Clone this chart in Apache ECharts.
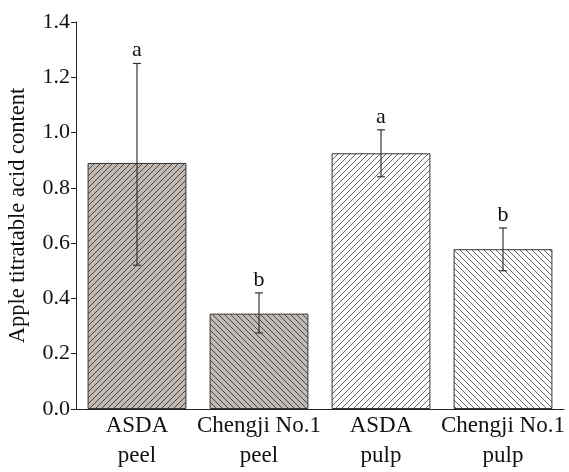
<!DOCTYPE html>
<html><head><meta charset="utf-8">
<script src="https://cdn.jsdelivr.net/npm/echarts@6/dist/echarts.min.js"></script>
<style>html,body{margin:0;padding:0;background:#fff}#c{width:569px;height:472px}</style>
</head><body><div id="c"></div>
<script>
const categories = ['ASDA\npeel', 'Chengji No.1\npeel', 'ASDA\npulp', 'Chengji No.1\npulp'];
const means = [0.89, 0.345, 0.925, 0.578];
const errLow = [0.52, 0.275, 0.84, 0.50];
const errHigh = [1.25, 0.42, 1.01, 0.655];
const letters = ['a', 'b', 'a', 'b'];

function hatch(bg, forward, lc) {
  const s = 6;
  const c = document.createElement('canvas');
  c.width = s; c.height = s;
  const g = c.getContext('2d');
  g.fillStyle = bg; g.fillRect(0, 0, s, s);
  g.strokeStyle = lc; g.lineWidth = 1;
  g.beginPath();
  if (forward) {
    g.moveTo(-1, s + 1); g.lineTo(s + 1, -1);
    g.moveTo(-1, 1); g.lineTo(1, -1);
    g.moveTo(s - 1, s + 1); g.lineTo(s + 1, s - 1);
  } else {
    g.moveTo(-1, -1); g.lineTo(s + 1, s + 1);
    g.moveTo(-1, s - 1); g.lineTo(1, s + 1);
    g.moveTo(s - 1, -1); g.lineTo(s + 1, 1);
  }
  g.stroke();
  return { image: c, repeat: 'repeat' };
}
const fills = [hatch('#c0b9b4', true, '#4a4545'), hatch('#c0b9b4', false, '#4a4545'),
               hatch('#ffffff', true, '#6a6666'), hatch('#ffffff', false, '#6a6666')];

const chart = echarts.init(document.getElementById('c'));
const font = 'Liberation Serif';
chart.setOption({
  animation: false,
  grid: { left: 76, right: 5, top: 22, bottom: 63, containLabel: false, outerBoundsMode: 'none' },
  xAxis: {
    type: 'category', data: categories,
    axisLine: { lineStyle: { color: '#222', width: 1 } },
    axisTick: { show: false },
    axisLabel: { color: '#111', fontFamily: font, fontSize: 23, lineHeight: 30, margin: 2, interval: 0 }
  },
  yAxis: {
    type: 'value', min: 0, max: 1.4, interval: 0.2,
    name: 'Apple titratable acid content', nameLocation: 'middle', nameGap: 46,
    nameTextStyle: { color: '#111', fontFamily: font, fontSize: 22.5 },
    axisLine: { show: true, lineStyle: { color: '#222', width: 1 } },
    axisTick: { show: true, length: 5, lineStyle: { color: '#222' } },
    splitLine: { show: false },
    axisLabel: { color: '#111', fontFamily: font, fontSize: 22, margin: 6,
      formatter: v => v.toFixed(1) }
  },
  series: [
    {
      type: 'bar', barWidth: '81%',
      data: means.map((v, i) => ({ value: v, itemStyle: { color: fills[i] } })),
      itemStyle: { borderColor: '#333', borderWidth: 1 }
    },
    {
      type: 'custom', z: 10,
      data: means.map((v, i) => [i, errLow[i], errHigh[i]]),
      renderItem: function (params, api) {
        const i = api.value(0);
        const lo = api.coord([i, api.value(1)]);
        const hi = api.coord([i, api.value(2)]);
        const x = lo[0], w = 4;
        const st = { stroke: '#333', lineWidth: 1.2 };
        return {
          type: 'group', children: [
            { type: 'line', shape: { x1: x, y1: lo[1], x2: x, y2: hi[1] }, style: st },
            { type: 'line', shape: { x1: x - w, y1: lo[1], x2: x + w, y2: lo[1] }, style: st },
            { type: 'line', shape: { x1: x - w, y1: hi[1], x2: x + w, y2: hi[1] }, style: st },
            { type: 'text', style: { text: letters[i], x: x, y: hi[1] - 2, textAlign: 'center', textVerticalAlign: 'bottom',
              font: '22px "Liberation Serif"', fill: '#111' } }
          ]
        };
      }
    }
  ]
});
</script></body></html>
